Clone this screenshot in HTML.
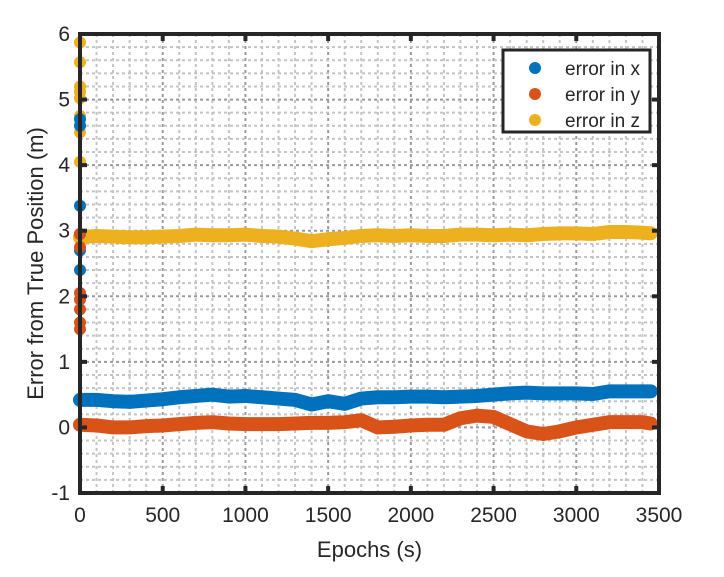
<!DOCTYPE html>
<html><head><meta charset="utf-8"><style>
body{margin:0;background:#fff;font-family:"Liberation Sans",Arial,sans-serif}
svg text{font-family:"Liberation Sans",Arial,sans-serif;fill:#262626}
</style></head><body>
<svg id="c" width="724" height="572"></svg>
<script>
const xTicks=[0,500,1000,1500,2000,2500,3000,3500];
const yTicks=[-1,0,1,2,3,4,5,6];
const epochs=[0,100,200,300,400,500,600,700,800,900,1000,1100,1200,1300,1400,1500,1600,1700,1800,1900,2000,2100,2200,2300,2400,2500,2600,2700,2800,2900,3000,3100,3200,3300,3400,3450];
const errX=[0.42,0.42,0.40,0.39,0.41,0.43,0.46,0.48,0.50,0.47,0.48,0.46,0.44,0.42,0.35,0.40,0.36,0.44,0.46,0.46,0.47,0.47,0.46,0.47,0.48,0.50,0.52,0.53,0.52,0.52,0.52,0.51,0.55,0.55,0.55,0.55];
const errY=[0.04,0.03,0.00,0.00,0.02,0.03,0.05,0.07,0.08,0.06,0.05,0.05,0.05,0.06,0.07,0.07,0.08,0.11,0.00,0.01,0.03,0.04,0.04,0.14,0.18,0.16,0.05,-0.06,-0.10,-0.06,0.00,0.04,0.08,0.08,0.08,0.06];
const errZ=[2.90,2.92,2.91,2.90,2.90,2.91,2.92,2.94,2.93,2.93,2.94,2.92,2.91,2.88,2.84,2.87,2.89,2.92,2.93,2.92,2.93,2.92,2.92,2.94,2.94,2.93,2.94,2.93,2.95,2.96,2.96,2.95,2.98,2.98,2.97,2.96];
const initX=[3.38,2.95,2.7,2.4,4.7,4.6];
const initY=[2.95,2.75,2.05,1.95,1.8,1.6,1.5];
const initZ=[5.87,5.57,5.2,5.12,5.02,4.75,4.6,4.5,4.05];
const L=80,R=659,T=34,B=493;
const sx=v=>L+(v-0)/3500*(R-L);
const sy=v=>B-(v+1)/7*(B-T);
const svg=document.getElementById('c');
const NS='http://www.w3.org/2000/svg';
function mk(t,a,p){const e=document.createElementNS(NS,t);for(const k in a)e.setAttribute(k,a[k]);(p||svg).appendChild(e);return e;}
const g=mk('g',{});


for(let v=0;v<=3500;v+=100){mk('line',{x1:sx(v),x2:sx(v),y1:T,y2:B,stroke:v%500?'#c4c4c4':'#9a9a9a','stroke-width':2,'stroke-dasharray':'3,3'},g);}
for(let i=-5;i<=30;i++){const v=i/5;mk('line',{x1:L,x2:R,y1:sy(v),y2:sy(v),stroke:i%5?'#c4c4c4':'#9a9a9a','stroke-width':2,'stroke-dasharray':'3,3'},g);}
function series(arr,vals,init,col,name){
  const s=mk('g',{});
  
  
  mk('polyline',{points:arr.map((e,i)=>sx(e)+','+sy(vals[i])).join(' '),fill:'none',stroke:col,'stroke-width':14,'stroke-linecap':'round','stroke-linejoin':'round'},s);
  init.forEach(v=>{const c=mk('circle',{cx:sx(0),cy:sy(v),r:6,fill:col},s);
  
  });
}
series(epochs,errZ,initZ,'#EDB120','series-error-z');
series(epochs,errX,initX,'#0072BD','series-error-x');
series(epochs,errY,initY,'#D95319','series-error-y');
const ax=mk('rect',{x:L,y:T,width:R-L,height:B-T,fill:'none',stroke:'#262626','stroke-width':4});


xTicks.forEach(v=>{mk('line',{x1:sx(v),x2:sx(v),y1:B,y2:B-7,stroke:'#262626','stroke-width':4});mk('line',{x1:sx(v),x2:sx(v),y1:T,y2:T+7,stroke:'#262626','stroke-width':4});
const t=mk('text',{x:sx(v),y:B+29,'text-anchor':'middle','font-size':21});t.textContent=v;

});
yTicks.forEach(v=>{mk('line',{x1:L,x2:L+7,y1:sy(v),y2:sy(v),stroke:'#262626','stroke-width':4});mk('line',{x1:R,x2:R-7,y1:sy(v),y2:sy(v),stroke:'#262626','stroke-width':4});
const t=mk('text',{x:L-10,y:sy(v)+7,'text-anchor':'end','font-size':21});t.textContent=v;

});
const xl=mk('text',{x:(L+R)/2,y:557,'text-anchor':'middle','font-size':22});xl.textContent='Epochs (s)';


const yl=mk('text',{x:0,y:0,'text-anchor':'middle','font-size':22,transform:`translate(43,${(T+B)/2}) rotate(-90)`});yl.textContent='Error from True Position (m)';


const lg=mk('g',{});


mk('rect',{x:503,y:50,width:147,height:82,fill:'#fff',stroke:'#262626','stroke-width':3},lg);
[['error in x','#0072BD'],['error in y','#D95319'],['error in z','#EDB120']].forEach((d,i)=>{
const e=mk('g',{},lg);


mk('circle',{cx:535,cy:68+i*26,r:6,fill:d[1]},e);
const t=mk('text',{x:565,y:75+i*26,'font-size':19},e);t.textContent=d[0];});
</script>
</body></html>
